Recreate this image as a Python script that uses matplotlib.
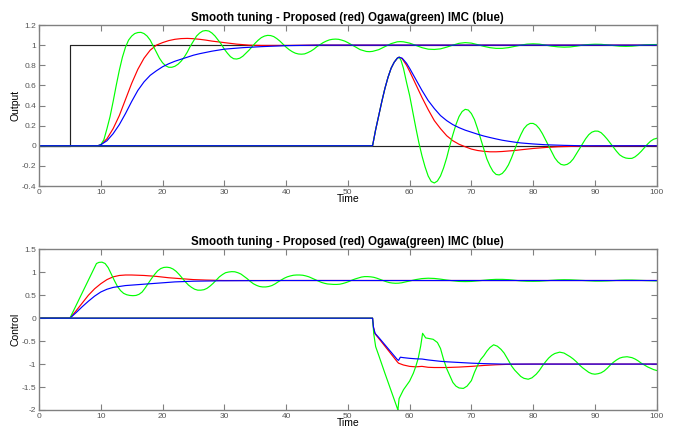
import numpy as np
import matplotlib
matplotlib.use("Agg")
import matplotlib.pyplot as plt
from matplotlib.ticker import FormatStrFormatter

plt.rcParams['font.family'] = ['Liberation Sans', 'DejaVu Sans']

# ---- top plot: output ----
ref_t = [0, 5, 5, 100]
ref_y = [0, 0, 1, 1]
zero_t = [0, 100]
zero_y = [0, 0]

# step responses (red = proposed, green = Ogawa, blue = IMC)
red_step_t = [0, 9.5, 10, 11, 12, 13, 14, 15, 16, 17, 18, 19, 20, 21, 22, 23, 24, 25, 26, 27, 28, 30, 32,
              34, 36, 40, 45, 100]
red_step_y = [0, 0, 0.01, 0.07, 0.17, 0.3, 0.46, 0.62, 0.76, 0.87, 0.95, 1.0, 1.025, 1.045, 1.058, 1.065, 1.067,
              1.064, 1.058, 1.05, 1.04, 1.025, 1.01, 1.0, 0.997, 0.997, 1.0, 1.0]

blue_step_t = [0, 9.5, 10, 11, 12, 13, 14, 15, 16, 17, 18, 19, 20, 21, 22, 23, 24, 25, 26, 28, 30, 33, 36, 40,
               45, 100]
blue_step_y = [0, 0, 0.01, 0.05, 0.12, 0.21, 0.32, 0.44, 0.55, 0.635, 0.70, 0.745, 0.785, 0.815, 0.84, 0.86,
               0.88, 0.90, 0.915, 0.94, 0.96, 0.975, 0.985, 0.995, 1.0, 1.0]

green_step_t = [0, 9.5, 10, 10.5, 11, 11.5, 12, 12.5, 13, 13.5, 14, 14.5, 15, 15.5, 16, 16.5, 17, 17.5, 18,
                18.5, 19, 19.5, 20, 20.5, 21, 21.5, 22, 22.5, 23, 23.5, 24, 24.5, 25, 25.5, 26, 26.5, 27,
                27.5, 28, 28.5, 29, 29.5, 30, 30.5, 31, 31.5, 32, 32.5, 33, 33.5, 34, 34.5, 35, 35.5, 36,
                36.5, 37, 37.5, 38, 38.5, 39, 39.5, 40, 40.5, 41, 41.5, 42, 42.5, 43, 43.5, 44, 44.5, 45,
                45.5, 46, 46.5, 47, 47.5, 48, 48.5, 49, 49.5, 50, 51, 52, 53, 53.5, 54, 55, 56, 57, 58,
                58.5, 59, 60, 61, 62, 63, 64, 65, 66, 67, 68, 69, 70, 71, 72, 73, 74, 75, 76, 77, 78, 79,
                80, 81, 82, 83, 84, 85, 86, 87, 88, 89, 90, 91, 92, 93, 94, 95, 96, 97, 98, 99, 100]
green_step_y = [0, 0, 0.01, 0.06, 0.17, 0.29, 0.44, 0.6, 0.75, 0.88, 0.98, 1.05, 1.09, 1.115, 1.125, 1.127,
                1.115, 1.09, 1.05, 0.99, 0.93, 0.87, 0.825, 0.795, 0.78, 0.78, 0.79, 0.81, 0.84, 0.88,
                0.93, 0.99, 1.04, 1.09, 1.12, 1.14, 1.145, 1.14, 1.12, 1.09, 1.05, 1.01, 0.96, 0.92,
                0.885, 0.865, 0.862, 0.87, 0.89, 0.92, 0.95, 0.985, 1.02, 1.05, 1.075, 1.09, 1.097,
                1.095, 1.085, 1.065, 1.04, 1.01, 0.98, 0.955, 0.935, 0.92, 0.912, 0.91, 0.913, 0.925,
                0.94, 0.96, 0.985, 1.005, 1.025, 1.04, 1.052, 1.058, 1.06, 1.058, 1.05, 1.04, 1.025,
                0.99, 0.955, 0.937, 0.935, 0.938, 0.955, 0.985, 1.015, 1.033, 1.035, 1.033, 1.02, 0.998,
                0.975, 0.96, 0.957, 0.963, 0.98, 1.0, 1.018, 1.025, 1.02, 1.005, 0.988, 0.975, 0.968,
                0.968, 0.975, 0.988, 1.0, 1.01, 1.013, 1.01, 1.0, 0.99, 0.983, 0.98, 0.982, 0.99, 1.0,
                1.006, 1.009, 1.008, 1.002, 0.995, 0.99, 0.988, 0.99, 0.996, 1.002, 1.005, 1.006]

# disturbance responses
rise_t = [0, 54, 54.5, 55, 55.5, 56, 56.5, 57, 57.5, 58, 58.3]
rise_y = [0, 0, 0.16, 0.3, 0.44, 0.57, 0.68, 0.77, 0.83, 0.87, 0.88]

red_dist_t = rise_t + [58.8, 59.5, 60, 61, 62, 63, 64, 65, 66, 67, 68, 69, 70, 71, 72, 73, 74, 75, 76, 77,
                       78, 80, 82, 84, 87, 90, 100]
red_dist_y = rise_y + [0.865, 0.8, 0.74, 0.61, 0.48, 0.36, 0.25, 0.17, 0.1, 0.05, 0.015, -0.01, -0.033,
                       -0.047, -0.055, -0.06, -0.06, -0.057, -0.052, -0.047, -0.04, -0.027, -0.017, -0.01,
                       -0.005, -0.002, 0]

blue_dist_t = rise_t + [58.8, 59.5, 60, 61, 62, 63, 64, 65, 66, 67, 68, 69, 70, 71, 72, 73, 74, 75, 76, 77,
                        78, 80, 82, 85, 88, 100]
blue_dist_y = rise_y + [0.87, 0.82, 0.77, 0.66, 0.55, 0.45, 0.37, 0.30, 0.25, 0.21, 0.18, 0.155, 0.135,
                        0.115, 0.097, 0.082, 0.068, 0.055, 0.045, 0.036, 0.028, 0.018, 0.01, 0.004, 0, 0]

green_dist_t = rise_t + [58.6, 59, 59.5, 60, 60.5, 61, 61.5, 62, 62.5, 63, 63.5, 64, 64.5, 65, 65.5, 66,
                         66.5, 67, 67.5, 68, 68.5, 69, 69.5, 70, 70.5, 71, 71.5, 72, 72.5, 73, 73.5, 74,
                         74.5, 75, 75.5, 76, 76.5, 77, 77.5, 78, 78.5, 79, 79.5, 80, 80.5, 81, 81.5, 82,
                         82.5, 83, 83.5, 84, 84.5, 85, 85.5, 86, 86.5, 87, 87.5, 88, 88.5, 89, 89.5, 90,
                         90.5, 91, 91.5, 92, 92.5, 93, 93.5, 94, 94.5, 95, 95.5, 96, 96.5, 97, 97.5, 98,
                         98.5, 99, 99.5, 100]
green_dist_y = rise_y + [0.85, 0.77, 0.63, 0.5, 0.34, 0.18, 0.03, -0.1, -0.21, -0.3, -0.355, -0.37, -0.35,
                         -0.3, -0.22, -0.12, 0.0, 0.11, 0.21, 0.29, 0.34, 0.362, 0.355, 0.32, 0.26, 0.17,
                         0.07, -0.03, -0.13, -0.2, -0.255, -0.285, -0.29, -0.275, -0.24, -0.19, -0.12,
                         -0.04, 0.04, 0.11, 0.17, 0.205, 0.222, 0.222, 0.205, 0.17, 0.12, 0.06, 0.0, -0.06,
                         -0.12, -0.16, -0.185, -0.192, -0.185, -0.165, -0.13, -0.08, -0.03, 0.02, 0.07,
                         0.11, 0.135, 0.146, 0.145, 0.13, 0.1, 0.065, 0.025, -0.015, -0.055, -0.09, -0.11,
                         -0.122, -0.126, -0.125, -0.11, -0.085, -0.055, -0.02, 0.015, 0.045, 0.065, 0.074]

# ---- bottom plot: control ----
red_u_t = [0, 5, 6, 7, 8, 9, 10, 11, 12, 13, 14, 15, 17, 19, 21, 23, 25, 27, 30, 35, 100]
red_u_y = [0, 0, 0.16, 0.33, 0.5, 0.64, 0.75, 0.84, 0.9, 0.93, 0.94, 0.94, 0.93, 0.91, 0.88, 0.86, 0.84,
           0.83, 0.82, 0.82, 0.82]

blue_u_t = [0, 5, 6, 7, 8, 9, 10, 11, 12, 13, 14, 16, 18, 20, 22, 25, 30, 40, 100]
blue_u_y = [0, 0, 0.12, 0.25, 0.37, 0.48, 0.57, 0.63, 0.67, 0.69, 0.71, 0.73, 0.75, 0.77, 0.79, 0.805, 0.815,
            0.82, 0.82]

green_u_t = [0, 5, 9.3, 9.7, 10.2, 10.7, 11.2, 11.7, 12.2, 12.7, 13.2, 13.7, 14.2, 14.7, 15.2, 15.7, 16.2,
             16.7, 17.2, 17.7, 18.2, 18.7, 19.2, 19.7, 20.2, 20.7, 21.2, 21.7, 22.2, 22.7, 23.2, 23.7, 24.2,
             24.7, 25.2, 25.7, 26.2, 26.7, 27.2, 27.7, 28.2, 28.7, 29.2, 29.7, 30.2, 30.7, 31.2, 31.7, 32.2,
             32.7, 33.2, 33.7, 34.2, 34.7, 35.2, 35.7, 36.2, 36.7, 37.2, 37.7, 38.2, 38.7, 39.2, 39.7, 40.2,
             40.7, 41.2, 41.7, 42.2, 42.7, 43.2, 43.7, 44.2, 44.7, 45.2, 45.7, 46.2, 46.7, 47.2, 47.7, 48.2,
             48.7, 49.2, 49.7, 50.2, 50.7, 51.2, 51.7, 52.2, 52.7, 53.2, 53.7, 54.2, 54.7, 55.2, 55.7, 56.2,
             56.7, 57.2, 57.7, 58.2, 58.7, 59.2, 60, 61, 62, 63, 64, 65, 66, 67, 68, 69, 70, 71, 72, 73, 74,
             75, 76, 77, 78, 79, 80, 81, 82, 83, 84, 85, 86, 87, 88, 89, 90, 91, 92, 93, 94, 95, 96, 97, 98,
             99, 100]
green_u_y = [0, 0, 1.19, 1.215, 1.22, 1.19, 1.1, 0.96, 0.82, 0.69, 0.6, 0.54, 0.51, 0.495, 0.49, 0.495, 0.52,
             0.57, 0.66, 0.76, 0.86, 0.95, 1.03, 1.08, 1.105, 1.11, 1.1, 1.07, 1.02, 0.95, 0.87, 0.79, 0.72,
             0.67, 0.63, 0.61, 0.61, 0.62, 0.65, 0.7, 0.76, 0.83, 0.9, 0.95, 0.99, 1.005, 1.013, 1.01, 0.99,
             0.96, 0.91, 0.86, 0.8, 0.75, 0.715, 0.69, 0.68, 0.68, 0.69, 0.71, 0.745, 0.79, 0.83, 0.87, 0.9,
             0.92, 0.935, 0.94, 0.94, 0.935, 0.92, 0.9, 0.87, 0.84, 0.81, 0.78, 0.76, 0.745, 0.74, 0.735,
             0.735, 0.74, 0.755, 0.775, 0.8, 0.83, 0.855, 0.875, 0.895, 0.905, 0.905, 0.9, 0.89, 0.87, 0.845,
             0.82, 0.795, 0.775, 0.765, 0.76, 0.762, 0.77, 0.785, 0.81, 0.84, 0.862, 0.87, 0.865, 0.85, 0.83,
             0.815, 0.8, 0.797, 0.8, 0.812, 0.825, 0.838, 0.845, 0.845, 0.838, 0.825, 0.812, 0.805, 0.803,
             0.806, 0.815, 0.825, 0.833, 0.837, 0.835, 0.828, 0.82, 0.812, 0.808, 0.808, 0.812, 0.82, 0.826,
             0.83, 0.83, 0.826, 0.82, 0.815, 0.812]

red_ud_t = [0, 54, 54.15, 54.4, 55, 56, 57, 58, 58.2, 59, 60, 61, 62, 63, 64, 66, 68, 70, 72, 74, 76, 80, 100]
red_ud_y = [0, 0, -0.2, -0.34, -0.44, -0.61, -0.78, -0.95, -0.98, -1.02, -1.05, -1.06, -1.05, -1.07, -1.075,
            -1.075, -1.065, -1.05, -1.03, -1.015, -1.005, -1.0, -1.0]

blue_ud_t = [0, 54, 54.15, 54.4, 55, 56, 57, 58, 58.2, 58.5, 59, 60, 61, 62, 63, 64, 65, 66, 68, 70, 72, 75,
             100]
blue_ud_y = [0, 0, -0.2, -0.33, -0.42, -0.58, -0.74, -0.9, -0.92, -0.85, -0.86, -0.875, -0.885, -0.89, -0.91,
             -0.925, -0.94, -0.95, -0.965, -0.98, -0.99, -1.0, -1.0]

green_ud_t = [0, 54, 54.2, 54.5, 55, 56, 57, 57.5, 58, 58.1, 58.3, 59, 60, 60.6, 61, 61.4, 61.8, 62.1, 62.6,
              63, 63.8, 64.5, 65, 65.5, 66, 66.5, 67, 67.5, 68, 68.7, 69.3, 70, 70.5, 71, 71.5, 72, 72.5,
              73, 73.6, 74.2, 74.8, 75.3, 76, 76.5, 77, 77.5, 78, 78.5, 79.2, 79.8, 80.5, 81, 81.5, 82,
              82.5, 83, 83.5, 84.3, 85, 85.5, 86, 86.5, 87, 87.5, 88, 88.5, 89, 89.5, 90, 90.5, 91, 91.5,
              92, 92.5, 93, 93.5, 94, 94.5, 95.2, 96, 96.5, 97, 97.5, 98, 98.5, 99, 99.5, 100]
green_ud_y = [0, 0, -0.35, -0.62, -0.81, -1.2, -1.58, -1.77, -1.96, -2.0, -1.75, -1.56, -1.37, -1.2, -1.05,
              -0.87, -0.6, -0.33, -0.43, -0.44, -0.46, -0.53, -0.66, -0.9, -1.1, -1.25, -1.4, -1.48, -1.52,
              -1.53, -1.48, -1.36, -1.18, -1.03, -0.9, -0.82, -0.72, -0.64, -0.58, -0.61, -0.68, -0.76,
              -0.92, -1.04, -1.13, -1.2, -1.27, -1.31, -1.33, -1.3, -1.22, -1.14, -1.04, -0.95, -0.87,
              -0.81, -0.77, -0.74, -0.76, -0.8, -0.84, -0.89, -0.95, -1.02, -1.08, -1.13, -1.18, -1.21,
              -1.22, -1.21, -1.19, -1.15, -1.09, -1.02, -0.96, -0.91, -0.87, -0.85, -0.84, -0.86, -0.89,
              -0.93, -0.98, -1.02, -1.06, -1.09, -1.12, -1.14]

title = 'Smooth tuning - Proposed (red) Ogawa(green) IMC (blue)'
lw = 0.85
RED, GREEN, BLUE = '#ff0000', '#00ff00', '#0000ff'

fig = plt.figure(figsize=(6.81, 4.29), dpi=100)
ax1 = fig.add_axes([0.0573, 0.5664, 0.907, 0.3753])
ax2 = fig.add_axes([0.0573, 0.0443, 0.907, 0.3746])

ax1.plot(ref_t, ref_y, color='#222222', lw=lw)
ax1.plot(zero_t, zero_y, color='#222222', lw=lw)
ax1.plot(red_step_t, red_step_y, color=RED, lw=lw)
ax1.plot(green_step_t, green_step_y, color=GREEN, lw=lw)
ax1.plot(blue_step_t, blue_step_y, color=BLUE, lw=lw)
ax1.plot(red_dist_t, red_dist_y, color=RED, lw=lw)
ax1.plot(green_dist_t, green_dist_y, color=GREEN, lw=lw)
ax1.plot(blue_dist_t, blue_dist_y, color=BLUE, lw=lw)
ax1.set_ylim(-0.4, 1.2)
ax1.set_yticks(np.arange(-0.4, 1.21, 0.2))
ax1.set_ylabel('Output', fontsize=7.5, labelpad=1)

ax2.plot(red_u_t, red_u_y, color=RED, lw=lw)
ax2.plot(green_u_t, green_u_y, color=GREEN, lw=lw)
ax2.plot(blue_u_t, blue_u_y, color=BLUE, lw=lw)
ax2.plot(red_ud_t, red_ud_y, color=RED, lw=lw)
ax2.plot(green_ud_t, green_ud_y, color=GREEN, lw=lw)
ax2.plot(blue_ud_t, blue_ud_y, color=BLUE, lw=lw)
ax2.set_ylim(-2, 1.5)
ax2.set_yticks(np.arange(-2, 1.51, 0.5))
ax2.set_ylabel('Control', fontsize=7.5, labelpad=1)

for ax in (ax1, ax2):
    ax.set_xlim(0, 100)
    ax.set_xticks(np.arange(0, 101, 10))
    ax.yaxis.set_major_formatter(FormatStrFormatter('%g'))
    ax.set_title(title, fontsize=8.3, fontweight='bold', pad=3)
    ax.set_xlabel('Time', fontsize=7.5, labelpad=-1)
    ax.tick_params(direction='in', top=True, right=True, length=4, width=0.8,
                   color='#808080', labelcolor='#555555', labelsize=6, pad=2)
    for sp in ax.spines.values():
        sp.set_color('#808080')
        sp.set_linewidth(1.0)

fig.savefig('out.png', dpi=100)
